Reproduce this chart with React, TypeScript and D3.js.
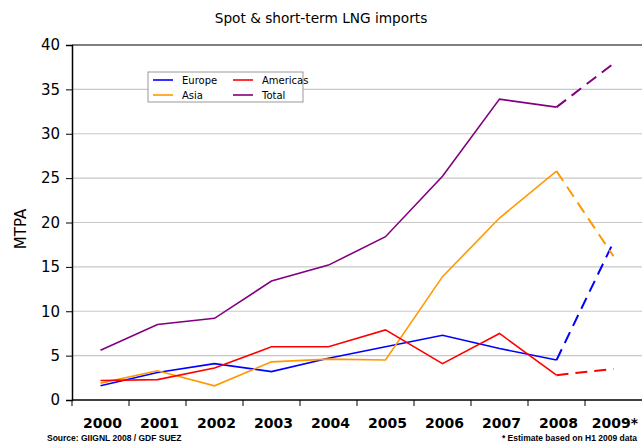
import { useEffect, useRef } from 'react';
import * as d3 from 'd3';

const years = ['2000', '2001', '2002', '2003', '2004', '2005', '2006', '2007', '2008', '2009*'];
const europe = [1.6, 3.1, 4.1, 3.2, 4.7, 6.0, 7.3, 5.8, 4.5, 17.8];
const asia = [1.9, 3.3, 1.6, 4.3, 4.6, 4.5, 13.9, 20.5, 25.8, 16.2];
const americas = [2.2, 2.3, 3.6, 6.0, 6.0, 7.9, 4.1, 7.5, 2.8, 3.5];
const total = [5.6, 8.5, 9.2, 13.4, 15.2, 18.4, 25.2, 33.9, 33.0, 37.9];
const yTicks = [0, 5, 10, 15, 20, 25, 30, 35, 40];

const seriesList = [
    { name: 'Europe', values: europe, color: '#0000ff' },
    { name: 'Asia', values: asia, color: '#ff9900' },
    { name: 'Americas', values: americas, color: '#ff0000' },
    { name: 'Total', values: total, color: '#800080' }
];

const App = () => {
    const svgRef = useRef<SVGSVGElement>(null);

    useEffect(() => {
        const root = d3.select(svgRef.current);
        root.selectAll('*').remove();

        const left = 72, right = 642, top = 45, bottom = 400;
        const font = 'Tahoma, "DejaVu Sans", sans-serif';
        const smallFont = '"Liberation Sans", Arial, sans-serif';

        const x = d3.scaleBand().domain(years).range([left, right]);
        const y = d3.scaleLinear().domain([0, 40]).range([bottom, top]);
        const cx = (i: number) => x(years[i])! + x.bandwidth() / 2;

        // gridlines
        root.append('g')
            .selectAll('line')
            .data(yTicks.filter(t => t > 0))
            .enter()
            .append('line')
            .attr('x1', left).attr('x2', right)
            .attr('y1', d => y(d)).attr('y2', d => y(d))
            .attr('stroke', d => d === 40 ? '#555' : '#c8c8c8')
            .attr('stroke-width', d => d === 40 ? 1.5 : 1.2);

        // y axis
        const yAxis = root.append('g')
            .attr('transform', `translate(${left},0)`)
            .call(d3.axisLeft(y).tickValues(yTicks).tickSize(6).tickPadding(6));
        yAxis.select('.domain').attr('stroke', '#000').attr('stroke-width', 1.5);
        yAxis.selectAll('line').attr('stroke', '#000');
        yAxis.selectAll('text').attr('font-family', font).attr('font-size', 15).attr('fill', '#000');

        // x axis
        const xAxis = root.append('g').attr('transform', `translate(0,${bottom})`);
        xAxis.append('line').attr('x1', left).attr('x2', right).attr('stroke', '#000').attr('stroke-width', 1.5);
        xAxis.selectAll('.tk')
            .data(years)
            .enter()
            .append('line')
            .attr('x1', d => x(d)!).attr('x2', d => x(d)!)
            .attr('y1', 0).attr('y2', 6)
            .attr('stroke', '#000');
        xAxis.selectAll('.lbl')
            .data(years)
            .enter()
            .append('text')
            .attr('x', (d, i) => d.endsWith('*') ? 638 : cx(i) + 2)
            .attr('y', 28)
            .attr('text-anchor', d => d.endsWith('*') ? 'end' : 'middle')
            .attr('font-family', font)
            .attr('font-size', 14)
            .attr('font-weight', 'bold')
            .text(d => d);

        const line = d3.line<number>().x((d, i) => cx(i)).y(d => y(d));

        seriesList.forEach(s => {
            root.append('path')
                .datum(s.values.slice(0, 9))
                .attr('d', line)
                .attr('fill', 'none')
                .attr('stroke', s.color)
                .attr('stroke-width', 1.6);
            const dashed = d3.line<number>().x((d, i) => cx(i + 8)).y(d => y(d));
            root.append('path')
                .datum(s.values.slice(8))
                .attr('d', dashed)
                .attr('fill', 'none')
                .attr('stroke', s.color)
                .attr('stroke-width', 2)
                .attr('stroke-dasharray', '12,7');
        });

        // legend
        const lg = root.append('g').attr('transform', 'translate(148,72)');
        lg.append('rect').attr('width', 155).attr('height', 30)
            .attr('fill', '#fff').attr('stroke', '#999');
        const order = ['Europe', 'Americas', 'Asia', 'Total'];
        order.forEach((name, i) => {
            const s = seriesList.find(t => t.name === name)!;
            const col = i % 2, row = Math.floor(i / 2);
            const gx = 5 + col * 80, gy = 8 + row * 15;
            lg.append('line').attr('x1', gx).attr('x2', gx + 20).attr('y1', gy).attr('y2', gy)
                .attr('stroke', s.color).attr('stroke-width', 1.6);
            lg.append('text').attr('x', gx + 29).attr('y', gy + 3.5)
                .attr('font-family', font).attr('font-size', 10).text(name);
        });

        // titles
        root.append('text').attr('x', 321).attr('y', 23).attr('text-anchor', 'middle')
            .attr('font-family', font).attr('font-size', 13.7).text('Spot & short-term LNG imports');
        root.append('text').attr('transform', 'translate(26,229) rotate(-90)')
            .attr('text-anchor', 'middle').attr('font-family', font).attr('font-size', 15).text('MTPA');
        root.append('text').attr('x', 47).attr('y', 441)
            .attr('font-family', smallFont).attr('font-size', 8.5).attr('font-weight', 'bold')
            .text('Source: GIIGNL 2008 / GDF SUEZ');
        root.append('text').attr('x', 637).attr('y', 441).attr('text-anchor', 'end')
            .attr('font-family', smallFont).attr('font-size', 8.5).attr('font-weight', 'bold')
            .text('* Estimate based on H1 2009 data');
    }, []);

    return (
        <svg ref={svgRef} width={643} height={446}
            style={{ position: 'absolute', left: 0, top: 0, background: '#fff' }} />
    );
};

export default App;
